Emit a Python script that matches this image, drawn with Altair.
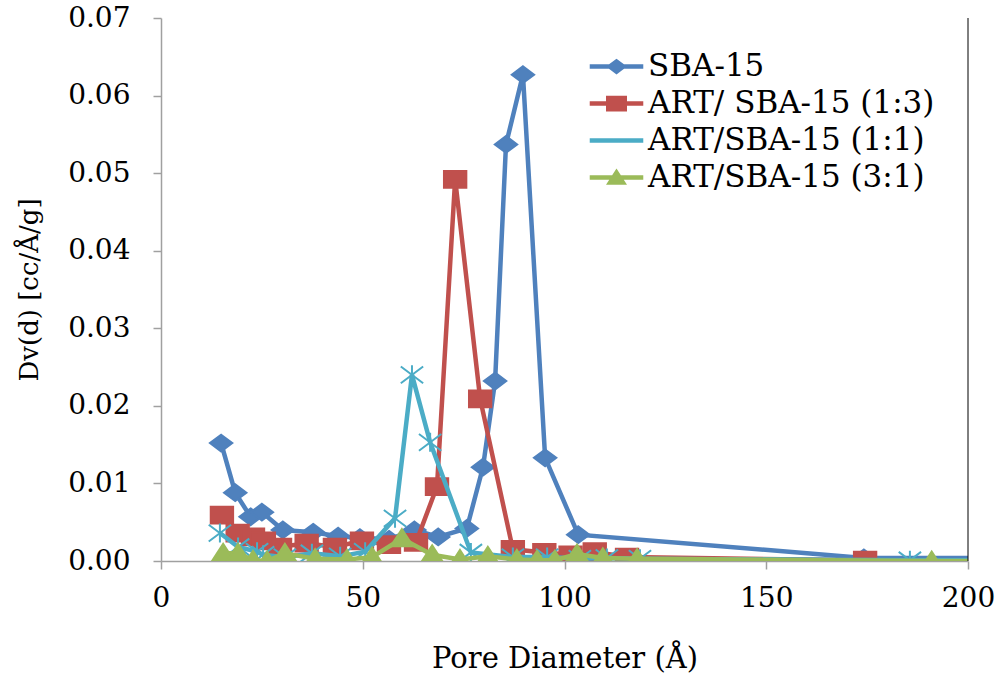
import altair as alt
import pandas as pd

series_names = ["SBA-15", "ART/ SBA-15 (1:3)", "ART/SBA-15 (1:1)", "ART/SBA-15 (3:1)"]
colors = ["#4F81BD", "#C0504D", "#4BACC6", "#9BBB59"]

# SBA-15
sba_x = [14.9, 18.4, 22.2, 25.0, 30.2, 37.7, 43.9, 49.3, 56.5, 62.8, 68.7, 75.8, 79.8, 82.8, 85.5, 89.7, 95.2, 103.4, 174.2, 250.0]
sba_y = [0.0152, 0.0088, 0.0057, 0.0063, 0.0040, 0.0037, 0.0032, 0.0030, 0.0028, 0.0040, 0.0031, 0.0042, 0.0121, 0.0232, 0.0537, 0.0627, 0.0133, 0.0034, 0.0004, 0.0004]
# ART/ SBA-15 (1:3)
r13_x = [15.1, 19.0, 22.8, 25.5, 29.5, 36.1, 43.1, 49.8, 56.5, 63.2, 68.4, 72.9, 79.1, 87.2, 95.0, 101.5, 107.5, 115.5, 174.5, 250.0]
r13_y = [0.0059, 0.0036, 0.0031, 0.0026, 0.0018, 0.0023, 0.0018, 0.0026, 0.0021, 0.0024, 0.0096, 0.0492, 0.0209, 0.0015, 0.0011, 0.0008, 0.0012, 0.0005, 0.0001, 0.0001]
# ART/SBA-15 (1:1)
r11_x = [14.6, 19.1, 23.8, 25.3, 30.7, 37.4, 44.4, 50.6, 58.0, 62.2, 66.7, 76.8, 87.2, 95.7, 103.8, 110.5, 118.7, 185.6, 250.0]
r11_y = [0.0036, 0.0018, 0.0012, 0.0008, 0.0005, 0.0010, 0.0006, 0.0012, 0.0055, 0.0240, 0.0153, 0.0011, 0.0005, 0.0005, 0.0003, 0.0004, 0.0003, 0.0001, 0.0001]
# ART/SBA-15 (3:1)
r31_x = [15.4, 19.1, 22.8, 26.3, 30.7, 38.2, 46.1, 52.3, 59.7, 67.2, 74.1, 81.0, 88.2, 93.2, 97.6, 103.1, 109.5, 118.0, 191.0, 250.0]
r31_y = [0.0010, 0.0010, 0.0001, 0.0000, 0.0010, 0.0003, 0.0002, 0.0005, 0.0029, 0.0008, 0.0002, 0.0006, 0.0002, 0.0001, 0.0001, 0.0009, 0.0004, 0.0003, 0.0000, 0.0000]

x_ticks = [0, 50, 100, 150, 200]
y_ticks = [0.0, 0.01, 0.02, 0.03, 0.04, 0.05, 0.06, 0.07]

marker_paths = [
    "M0,-0.75L1,0L0,0.75L-1,0Z",
    "M-1,-0.75L1,-0.75L1,0.75L-1,0.75Z",
    "M-1,-0.75L1,0.75M-1,0.75L1,-0.75M0,-0.85L0,0.85",
    "M0,-0.85L1,0.7L-1,0.7Z",
]
marker_fills = [colors[0], colors[1], "transparent", colors[3]]
seg = "M-2.55,-0.21L2.55,-0.21L2.55,0.21L-2.55,0.21Z"
legend_paths = [seg + p for p in marker_paths]

rows = []
for name, xs, ys in zip(series_names, [sba_x, r13_x, r11_x, r31_x], [sba_y, r13_y, r11_y, r31_y]):
    for i, (a, b) in enumerate(zip(xs, ys)):
        rows.append({"series": name, "d": a, "dv": b, "idx": i})
df = pd.DataFrame(rows)

FONT = "DejaVu Serif"
W, H = 807, 543

xenc = alt.X("d:Q", scale=alt.Scale(domain=[0, 200], nice=False),
             axis=alt.Axis(values=x_ticks, title="Pore Diameter (Å)", format="d",
                           labelPadding=15, labelFlush=False, titleY=97, titleBaseline="middle"))
yenc = alt.Y("dv:Q", scale=alt.Scale(domain=[0, 0.07], nice=False),
             axis=alt.Axis(values=y_ticks, format=".2f", title="Dv(d) [cc/Å/g]",
                           labelPadding=23, labelFlush=False, titleX=-132, titleBaseline="middle"))

color_scale = alt.Scale(domain=series_names, range=colors)
shape_scale = alt.Scale(domain=series_names, range=marker_paths)
fill_scale = alt.Scale(domain=series_names, range=marker_fills)

layers = []
for k, name in enumerate(series_names):
    base = alt.Chart(df).transform_filter(alt.datum.series == name)
    line = base.mark_line(strokeWidth=4.5, clip=True).encode(
        x=xenc, y=yenc,
        color=alt.Color("series:N", scale=color_scale, legend=None),
        order="idx:Q",
    )
    pts = base.mark_point(opacity=1, strokeWidth=2, size=500, clip=True).encode(
        x=xenc, y=yenc,
        shape=alt.Shape("series:N", scale=shape_scale, legend=None),
        fill=alt.Fill("series:N", scale=fill_scale, legend=None),
        stroke=alt.Stroke("series:N", scale=color_scale, legend=None),
    )
    layers += [line, pts]

leg_df = pd.DataFrame({"series": series_names})
legend_layer = alt.Chart(leg_df).mark_point(opacity=0, size=441).encode(
    shape=alt.Shape("series:N", scale=alt.Scale(domain=series_names, range=legend_paths),
                    legend=alt.Legend(orient="none", legendX=440, legendY=33, title=None,
                                      symbolOpacity=1, symbolSize=441, symbolStrokeWidth=2,
                                      labelFont=FONT, labelFontSize=31, labelColor="black",
                                      labelOffset=16, rowPadding=5, padding=0, labelLimit=400)),
    fill=alt.Fill("series:N", scale=alt.Scale(domain=series_names, range=colors),
                  legend=alt.Legend(orient="none", legendX=440, legendY=33, title=None)),
    stroke=alt.Stroke("series:N", scale=color_scale,
                      legend=alt.Legend(orient="none", legendX=440, legendY=33, title=None)),
)

border = alt.Chart(pd.DataFrame({"a": [0]})).mark_rule(color="black", strokeWidth=1).encode(
    x=alt.value(W), y=alt.value(0), y2=alt.value(H)
)

chart = alt.layer(*layers, legend_layer, border).resolve_scale(
    shape="independent", fill="independent"
).properties(
    width=W, height=H,
    padding={"left": 161, "top": 18, "right": 32, "bottom": 113},
    autosize=alt.AutoSizeParams(type="none"),
).configure_view(stroke=None).configure_axis(
    labelFont=FONT, labelFontSize=28, labelColor="black",
    titleFont=FONT, titleFontSize=29, titleColor="black", titleFontWeight="normal",
    domainColor="#A0A0A0", tickColor="#A0A0A0", tickSize=8, domainWidth=1.5, tickWidth=1.5,
    grid=False,
).configure_axisY(titleFontSize=26)

chart.save("out.html", embed_options={"renderer": "svg", "actions": False})
